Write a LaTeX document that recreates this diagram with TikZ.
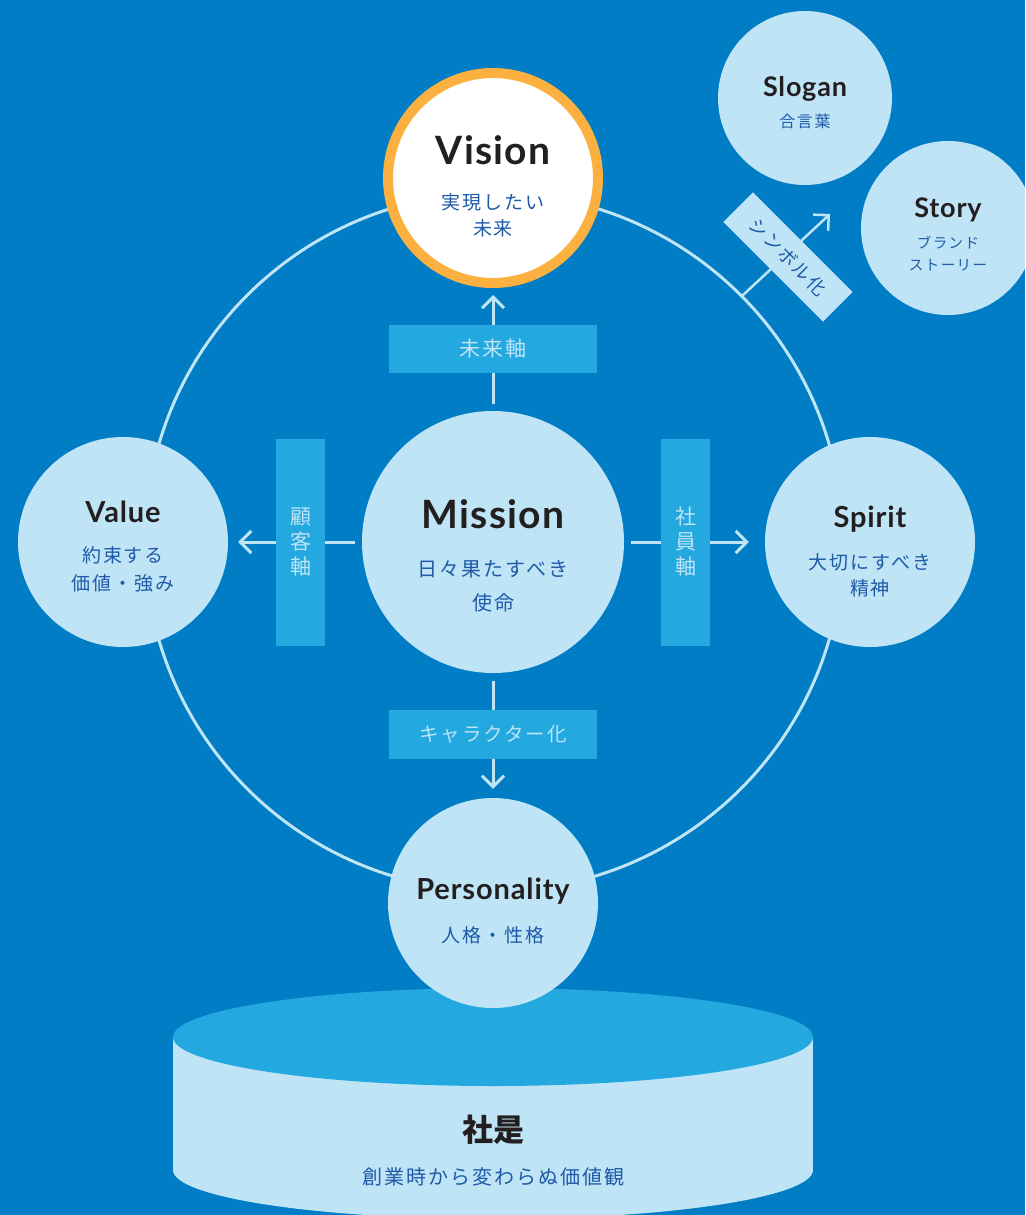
\documentclass[tikz,border=0pt]{standalone}
\usepackage{fontspec}
\setmainfont{Lato}[LetterSpace=3]
\newfontfamily\jpfont[LetterSpace=10]{Noto Sans CJK JP}
\newfontfamily\jpplain{Noto Sans CJK JP}
\usetikzlibrary{arrows.meta}
\usetikzlibrary{positioning}
\definecolor{bgblue}{RGB}{0,125,197}
\definecolor{paleblue}{RGB}{190,228,245}
\definecolor{midblue}{RGB}{35,168,224}
\definecolor{ringorange}{RGB}{251,176,64}
\definecolor{inkdark}{RGB}{35,31,32}
\definecolor{jpblue}{RGB}{30,90,168}

\begin{document}
\begin{tikzpicture}[x=1pt,y=-1pt,
  circ/.style={circle,fill=paleblue,inner sep=0pt,minimum size=210pt},
  title/.style={anchor=base,text=inkdark,font=\bfseries\fontsize{29}{30}\selectfont},
  sub/.style={align=center,text=jpblue},
  axisbox/.style={fill=midblue,inner sep=0pt,text=paleblue,align=center},
  axis/.style={paleblue,line width=3pt,-{Straight Barb[length=11pt,width=22pt]}}]
\clip (0,0) rectangle (1025,1215);
\fill[bgblue] (0,0) rectangle (1025,1215);

% ring
\coordinate (ringc) at (494,542);
\draw[paleblue,line width=3pt] (ringc) circle (349);

% cylinder
\fill[paleblue] (493,1170) ellipse (320 and 49);
\fill[paleblue] (173,1037) rectangle (813,1170);
\fill[midblue] (493,1037) ellipse (320 and 49);

% circles
\node[circ,minimum size=262pt] (mission) at (493,542) {};
\node[circ,fill=white,draw=ringorange,line width=10pt] (vision) at (493,178) {};
\node[circ] (value) at (123,542) {};
\node[circ] (spirit) at (870,542) {};
\node[circ] (personality) at (493,903) {};
\node[circ,minimum size=174pt] (slogan) at (805,98) {};
\node[circ,minimum size=174pt] (story) at (948,228) {};

% arrows
\draw[axis,shorten <=7pt,shorten >=7pt] (mission) -- (vision);
\draw[axis,shorten <=7pt,shorten >=10pt] (mission) -- (value);
\draw[axis,shorten <=7pt,shorten >=16pt] (mission) -- (spirit);
\draw[axis,shorten <=8pt,shorten >=9pt] (mission) -- (personality);
\coordinate (symstart) at (742,296);
\coordinate (symtip) at (830,214);
\draw[axis,line width=2.5pt] (symstart) -- (symtip);

% boxes
\node[axisbox,minimum width=208pt,minimum height=48pt,font=\jpfont\fontsize{21}{22}\selectfont] (futurebox) at (493,349) {未来軸};
\node[axisbox,minimum width=49pt,minimum height=207pt,font=\jpplain\fontsize{21}{25}\selectfont] (clientbox) at (300.5,542) {顧\\客\\軸};
\node[axisbox,minimum width=49pt,minimum height=207pt,font=\jpplain\fontsize{21}{25}\selectfont] (staffbox) at (685.5,542) {社\\員\\軸};
\node[axisbox,minimum width=208pt,minimum height=49pt,font=\jpfont\fontsize{19.5}{22}\selectfont] (charbox) at (493,734.5) {キャラクター化};
\node[axisbox,fill=paleblue,text=jpblue,rotate=-45,minimum width=141pt,minimum height=42pt,font=\jpfont\fontsize{18.5}{20}\selectfont] (symbox) at (788,257) {シンボル化};

% texts
\node[title,font=\bfseries\fontsize{39}{40}\selectfont] (visiontitle) at (493,164) {Vision};
\node[sub,font=\jpfont\fontsize{19}{26}\selectfont] (visionsub) at (493,215) {実現したい\\未来};
\node[title,font=\bfseries\fontsize{39}{40}\selectfont] (missiontitle) at (493,528) {Mission};
\node[sub,font=\jpfont\fontsize{20}{34}\selectfont] (missionsub) at (493,586) {日々果たすべき\\使命};
\node[title] (valuetitle) at (123,522) {Value};
\node[sub,font=\jpfont\fontsize{19}{28}\selectfont] (valuesub) at (123,569) {約束する\\価値・強み};
\node[title] (spirittitle) at (870,527) {Spirit};
\node[sub,font=\jpfont\fontsize{19}{26}\selectfont] (spiritsub) at (870,575) {大切にすべき\\精神};
\node[title] (personalitytitle) at (493,899) {Personality};
\node[sub,font=\jpfont\fontsize{19}{26}\selectfont] (personalitysub) at (493,935) {人格・性格};
\node[title,font=\bfseries\fontsize{27}{28}\selectfont] (slogantitle) at (805,96) {Slogan};
\node[sub,font=\jpfont\fontsize{16}{20}\selectfont] (slogansub) at (805,121) {合言葉};
\node[title,font=\bfseries\fontsize{27}{28}\selectfont] (storytitle) at (948,217) {Story};
\node[sub,font=\jpfont\fontsize{14.5}{22}\selectfont] (storysub) at (948,254) {ブランド\\ストーリー};
\node[text=inkdark,font=\jpplain\bfseries\fontsize{31}{32}\selectfont] (mottotitle) at (493,1130) {社是};
\node[sub,font=\jpfont\fontsize{20}{22}\selectfont] (mottosub) at (493,1177) {創業時から変わらぬ価値観};

\end{tikzpicture}
\end{document}
